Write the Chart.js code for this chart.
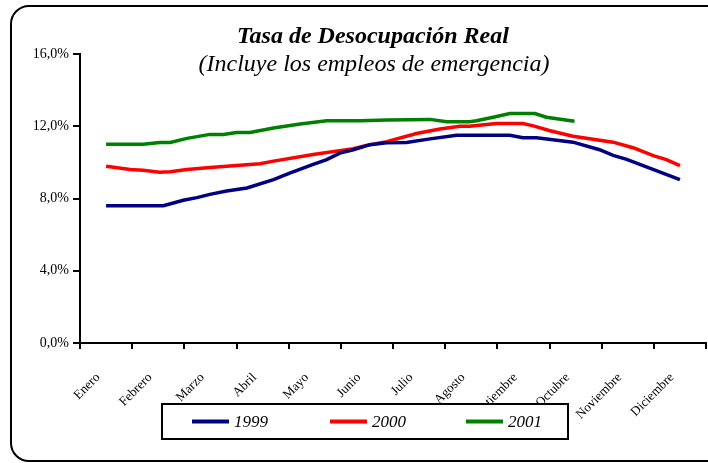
<!DOCTYPE html>
<html>
<head>
<meta charset="utf-8">
<script src="https://cdn.jsdelivr.net/npm/chart.js@4.4.0/dist/chart.umd.min.js"></script>
<style>
  html, body { margin: 0; padding: 0; background: #fff; }
  #wrap { width: 708px; height: 463px; }
</style>
</head>
<body>
<div id="wrap"><canvas id="chart"></canvas></div>
<script>
// Month labels and y ticks
const months = ['Enero', 'Febrero', 'Marzo', 'Abril', 'Mayo', 'Junio', 'Julio',
  'Agosto', 'Septiembre', 'Octubre', 'Noviembre', 'Diciembre'];
const yTicks = [0, 4, 8, 12, 16];

// Series: position in months (0 = Enero) and rate in %
const pos1999 = [0, 1.10, 1.48, 1.74, 1.99, 2.31, 2.70, 3.21, 3.52, 3.97, 4.23, 4.48, 4.74, 5.06, 5.38, 5.76, 6.21, 6.72, 7.74, 7.99, 8.25, 8.95, 9.46, 9.72, 9.98, 11.0];
const val1999 = [7.6, 7.6, 7.9, 8.05, 8.23, 8.41, 8.58, 9.04, 9.41, 9.89, 10.15, 10.51, 10.70, 10.98, 11.08, 11.1, 11.3, 11.5, 11.5, 11.36, 11.36, 11.12, 10.7, 10.39, 10.17, 9.04];

const pos2000 = [0, 0.46, 0.71, 1.03, 1.23, 1.55, 1.99, 2.95, 3.21, 3.97, 4.74, 4.99, 5.38, 5.95, 6.40, 6.78, 6.97, 7.48, 7.99, 8.19, 8.51, 8.95, 9.72, 10.10, 10.49, 10.74, 11.0];
const val2000 = [9.78, 9.6, 9.56, 9.46, 9.48, 9.61, 9.71, 9.93, 10.07, 10.44, 10.76, 10.94, 11.15, 11.6, 11.85, 12.0, 12.0, 12.15, 12.15, 12.02, 11.75, 11.45, 11.12, 10.81, 10.37, 10.15, 9.82];

const pos2001 = [0, 0.71, 1.03, 1.23, 1.55, 1.99, 2.25, 2.50, 2.76, 3.21, 3.72, 4.23, 4.87, 5.38, 6.21, 6.53, 6.97, 7.10, 7.42, 7.74, 8.22, 8.44, 8.98];
const val2001 = [11.0, 11.0, 11.1, 11.1, 11.33, 11.55, 11.55, 11.65, 11.65, 11.9, 12.12, 12.3, 12.3, 12.35, 12.38, 12.25, 12.25, 12.3, 12.5, 12.7, 12.7, 12.5, 12.28];

const years = ['1999', '2000', '2001'];
const colors = ['#000080', '#ff0000', '#008000'];

function toPoints(pos, val) {
  return pos.map((p, i) => ({ x: p, y: val[i] }));
}

const SERIF = "'Liberation Serif', 'Times New Roman', serif";

// Outer rounded frame + titles + boxed legend
const decorPlugin = {
  id: 'decor',
  afterDraw(chart) {
    const ctx = chart.ctx;
    ctx.save();
    // frame
    ctx.strokeStyle = '#000';
    ctx.lineWidth = 2;
    ctx.beginPath();
    ctx.roundRect(11, 6, 740, 455, 18);
    ctx.stroke();

    // titles
    ctx.fillStyle = '#000';
    ctx.textAlign = 'center';
    ctx.textBaseline = 'middle';
    ctx.font = 'bold italic 24px ' + SERIF;
    ctx.fillText('Tasa de Desocupación Real', 373, 37);
    ctx.font = 'italic 24px ' + SERIF;
    ctx.fillText('(Incluye los empleos de emergencia)', 374, 65);

    // legend box
    const bx = 162, by = 404, bw = 406, bh = 35;
    ctx.fillStyle = '#fff';
    ctx.fillRect(bx, by, bw, bh);
    ctx.strokeRect(bx, by, bw, bh);
    const starts = [192, 330, 466];
    chart.data.datasets.forEach((ds, i) => {
      const x = starts[i];
      const y = by + bh / 2;
      ctx.strokeStyle = ds.borderColor;
      ctx.lineWidth = 4;
      ctx.beginPath();
      ctx.moveTo(x, y);
      ctx.lineTo(x + 37, y);
      ctx.stroke();
      ctx.fillStyle = '#000';
      ctx.textAlign = 'left';
      ctx.font = 'italic 17px ' + SERIF;
      ctx.fillText(ds.label, x + 42, y + 1);
    });
    ctx.restore();
  }
};

new Chart(document.getElementById('chart'), {
  type: 'line',
  data: {
    labels: months,
    datasets: years.map((y, i) => ({
      label: y,
      data: toPoints([pos1999, pos2000, pos2001][i], [val1999, val2000, val2001][i]),
      borderColor: colors[i],
      backgroundColor: colors[i],
      borderWidth: 3.5,
      pointRadius: 0,
      tension: 0,
      xAxisID: 'x2'
    }))
  },
  options: {
    responsive: true,
    maintainAspectRatio: false,
    animation: false,
    layout: { padding: { left: 0, right: 2, top: 54, bottom: 0 } },
    plugins: {
      legend: { display: false },
      title: { display: false },
      tooltip: { enabled: false }
    },
    scales: {
      x: {
        type: 'category',
        offset: true,
        border: { display: true, color: '#000', width: 2 },
        grid: { display: true, offset: true, drawOnChartArea: false, color: '#000', lineWidth: 2, tickLength: 6 },
        ticks: {
          autoSkip: false, minRotation: 45, maxRotation: 45,
          color: '#000', padding: 21, labelOffset: -8,
          font: { family: SERIF, size: 13 }
        },
        afterFit(s) {
          s.height = 120;
          s.paddingLeft = 0;
          s.paddingRight = 0;
        }
      },
      x2: {
        type: 'linear',
        display: false,
        min: -0.5,
        max: 11.5
      },
      y: {
        min: 0,
        max: 16,
        border: { display: true, color: '#000', width: 2 },
        grid: { display: true, drawOnChartArea: false, color: '#000', lineWidth: 2, tickLength: 7 },
        afterBuildTicks(s) { s.ticks = yTicks.map(v => ({ value: v })); },
        ticks: {
          color: '#000', padding: 4,
          font: { family: SERIF, size: 14 },
          callback: v => v.toFixed(1).replace('.', ',') + '%'
        },
        afterFit(s) { s.width = 80; }
      }
    }
  },
  plugins: [decorPlugin]
});
</script>
</body>
</html>
